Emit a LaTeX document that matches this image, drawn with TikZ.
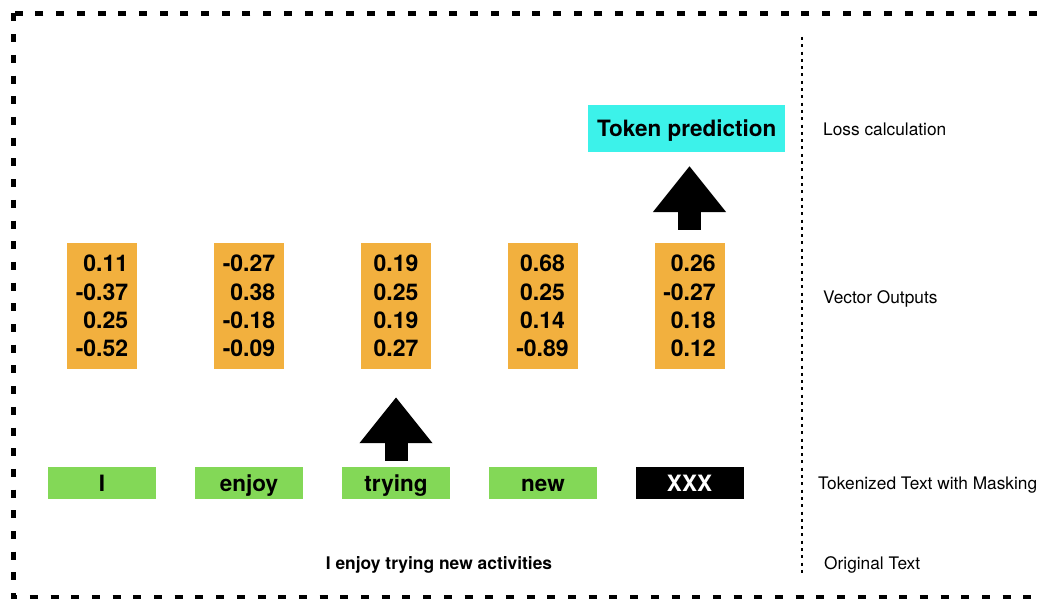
\documentclass[tikz,border=0pt]{standalone}
\usepackage{fontspec}
\setmainfont{TeX Gyre Heros}
\usepackage{tikz}
\usepackage{xcolor}
\usetikzlibrary{positioning,arrows.meta,calc}
\definecolor{tokgreen}{RGB}{131,216,87}
\definecolor{vecorange}{RGB}{242,176,62}
\definecolor{predcyan}{RGB}{60,242,234}

\begin{document}
\begin{tikzpicture}[x=1pt, y=-1pt,
    tokbox/.style={fill=tokgreen, minimum width=108pt, minimum height=32pt,
      inner sep=0pt, text height=16pt, text depth=0pt,
      font=\fontsize{22.5}{26}\selectfont\bfseries},
    vecbox/.style={fill=vecorange, minimum width=70pt, minimum height=126pt,
      inner sep=0pt, font=\fontsize{23}{28.4}\selectfont\bfseries},
    rowlabel/.style={anchor=west, inner sep=0pt, font=\fontsize{17.3}{20}\selectfont},
    blockarrow/.style={line width=23pt, -{Triangle[width=70pt,length=46pt]}}]
  \clip (0,0) rectangle (1044,599);
  % outer frame
  \draw[line width=5pt, dash pattern=on 8pt off 12.7pt]
        (13,13.5) rectangle (1080,597);
  % divider
  \draw[line width=2.2pt, dash pattern=on 3pt off 4.3pt] (802,37) -- (802,575);

  % tokens
  \node[tokbox] (tok1) at (102,483) {I};
  \node[tokbox] (tok2) at (249,483) {enjoy};
  \node[tokbox] (tok3) at (396,483) {trying};
  \node[tokbox] (tok4) at (543,483) {new};
  \node[tokbox, fill=black, text=white] (tok5) at (689.5,483) {XXX};

  % vector outputs
  \node[vecbox, align=right] (vec1) at (102,306) {0.11\\-0.37\\0.25\\-0.52};
  \node[vecbox, align=right] (vec2) at (249,306) {-0.27\\0.38\\-0.18\\-0.09};
  \node[vecbox, align=center] (vec3) at (396,306) {0.19\\0.25\\0.19\\0.27};
  \node[vecbox, align=center] (vec4) at (542.5,306) {0.68\\0.25\\0.14\\-0.89};
  \node[vecbox, align=right] (vec5) at (689.5,306) {0.26\\-0.27\\0.18\\0.12};

  % prediction
  \node[fill=predcyan, minimum width=197pt, minimum height=47pt, inner sep=0pt,
        text height=16pt, text depth=0pt,
        font=\fontsize{22.5}{26}\selectfont\bfseries]
        (pred) at (686.7,128.3) {Token prediction};

  % arrows
  \draw[blockarrow, shorten <=6pt, shorten >=28pt] (tok3.north) -- (vec3.south);
  \draw[blockarrow, shorten <=13pt, shorten >=14pt]
        (vec5.north) -- (vec5.north |- pred.south);

  % original sentence
  \node[font=\fontsize{17.4}{20}\selectfont\bfseries] (orig) at (439,565)
        {I enjoy trying new activities};

  % row labels
  \node[rowlabel] (losslbl) at (823,129) {Loss calculation};
  \node[rowlabel] (veclbl) at (823,299) {Vector Outputs};
  \node[rowlabel] (toklbl) at (818,485) {Tokenized Text with Masking};
  \node[rowlabel] (origlbl) at (824,565) {Original Text};
\end{tikzpicture}
\end{document}
